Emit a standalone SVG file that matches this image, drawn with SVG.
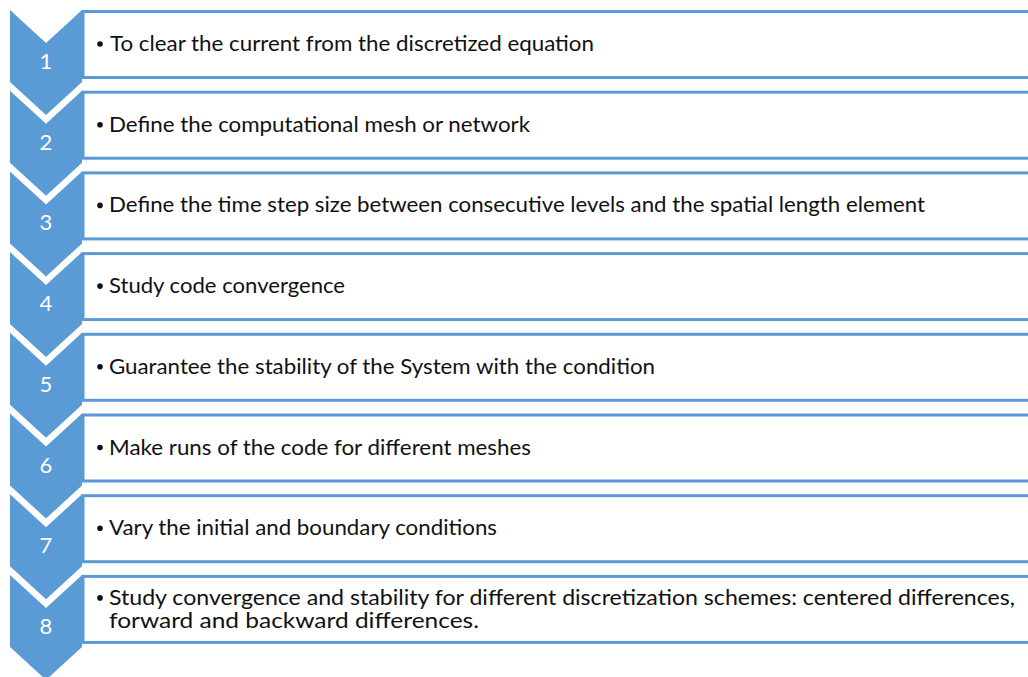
<svg xmlns="http://www.w3.org/2000/svg" width="1028" height="677" viewBox="0 0 1028 677">
<style>
.box{fill:#fff;stroke:#5B9BD5;stroke-width:3}
.chev{fill:#5B9BD5}
.num{font-family:Lato,"Liberation Sans",sans-serif;font-size:22px;fill:#fff;text-anchor:middle}
.txt{font-family:Lato,"Liberation Sans",sans-serif;font-size:21px;fill:#111}
.bul{fill:#111}
</style>
<defs>
<path id="chev" d="M10,0 L46,33 L82,0 L82,72 L46,105 L10,72 Z"/>
</defs>
<rect width="1028" height="677" fill="#fff"/>
<g id="step1" transform="translate(0,10)">
<rect class="box" x="83" y="1.5" width="960" height="66"/>
<use href="#chev" class="chev"/>
<text class="num" x="46" y="59">1</text>
<circle class="bul" cx="100" cy="34" r="2.8"/>
<text class="txt" x="110" y="41" textLength="484" lengthAdjust="spacingAndGlyphs">To clear the current from the discretized equation</text>
</g>
<g id="step2" transform="translate(0,90.7)">
<rect class="box" x="83" y="1.5" width="960" height="66"/>
<use href="#chev" class="chev"/>
<text class="num" x="46" y="59">2</text>
<circle class="bul" cx="100" cy="34" r="2.8"/>
<text class="txt" x="109" y="41" textLength="421" lengthAdjust="spacingAndGlyphs">Define the computational mesh or network</text>
</g>
<g id="step3" transform="translate(0,171.4)">
<rect class="box" x="83" y="1.5" width="960" height="66"/>
<use href="#chev" class="chev"/>
<text class="num" x="46" y="59">3</text>
<circle class="bul" cx="100" cy="34" r="2.8"/>
<text class="txt" x="109" y="41" textLength="816" lengthAdjust="spacingAndGlyphs">Define the time step size between consecutive levels and the spatial length element</text>
</g>
<g id="step4" transform="translate(0,252.1)">
<rect class="box" x="83" y="1.5" width="960" height="66"/>
<use href="#chev" class="chev"/>
<text class="num" x="46" y="59">4</text>
<circle class="bul" cx="100" cy="34" r="2.8"/>
<text class="txt" x="109" y="41" textLength="236" lengthAdjust="spacingAndGlyphs">Study code convergence</text>
</g>
<g id="step5" transform="translate(0,332.8)">
<rect class="box" x="83" y="1.5" width="960" height="66"/>
<use href="#chev" class="chev"/>
<text class="num" x="46" y="59">5</text>
<circle class="bul" cx="100" cy="34" r="2.8"/>
<text class="txt" x="109" y="41" textLength="546" lengthAdjust="spacingAndGlyphs">Guarantee the stability of the System with the condition</text>
</g>
<g id="step6" transform="translate(0,413.5)">
<rect class="box" x="83" y="1.5" width="960" height="66"/>
<use href="#chev" class="chev"/>
<text class="num" x="46" y="59">6</text>
<circle class="bul" cx="100" cy="34" r="2.8"/>
<text class="txt" x="109" y="41" textLength="422" lengthAdjust="spacingAndGlyphs">Make runs of the code for different meshes</text>
</g>
<g id="step7" transform="translate(0,494.2)">
<rect class="box" x="83" y="1.5" width="960" height="66"/>
<use href="#chev" class="chev"/>
<text class="num" x="46" y="59">7</text>
<circle class="bul" cx="100" cy="34" r="2.8"/>
<text class="txt" x="109" y="41" textLength="388" lengthAdjust="spacingAndGlyphs">Vary the initial and boundary conditions</text>
</g>
<g id="step8" transform="translate(0,574.9)">
<rect class="box" x="83" y="1.5" width="960" height="66"/>
<use href="#chev" class="chev"/>
<text class="num" x="46" y="59">8</text>
<circle class="bul" cx="100" cy="23" r="2.8"/>
<text class="txt" x="109" y="30" textLength="906" lengthAdjust="spacingAndGlyphs">Study convergence and stability for different discretization schemes: centered differences,</text>
<text class="txt" x="109" y="53" textLength="370" lengthAdjust="spacingAndGlyphs">forward and backward differences.</text>
</g>
<g id="connectors"/>
</svg>
